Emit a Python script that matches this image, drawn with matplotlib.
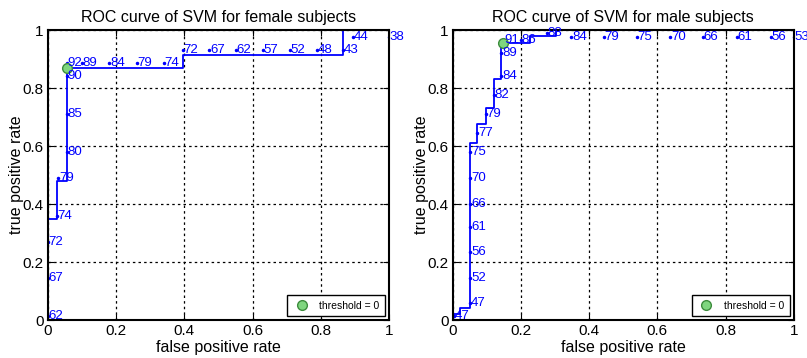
import numpy as np
import matplotlib.pyplot as plt

plt.rcParams['font.family'] = ['Liberation Sans', 'DejaVu Sans']

# ROC krzywe (schodki) - kobiety
f_fpr = [0, 0, 0.026, 0.026, 0.055, 0.055, 0.395, 0.395, 0.866, 0.866, 1.0]
f_tpr = [0, 0.348, 0.348, 0.48, 0.48, 0.87, 0.87, 0.914, 0.914, 1.0, 1.0]
f_pt = (0.055, 0.87)  # threshold = 0

# etykiety progów - kobiety
f_lab_fpr = [0, 0, 0, 0.026, 0.03, 0.055, 0.055, 0.055, 0.055, 0.10, 0.18, 0.26, 0.34,
             0.395, 0.473, 0.551, 0.63, 0.71, 0.79, 0.866, 0.894, 1.0]
f_lab_tpr = [0.015, 0.145, 0.27, 0.36, 0.49, 0.58, 0.71, 0.84, 0.885, 0.885, 0.885, 0.885, 0.885,
             0.93, 0.93, 0.93, 0.93, 0.93, 0.93, 0.93, 0.977, 0.975]
f_lab_txt = ['62', '67', '72', '74', '79', '80', '85', '90', '92', '89', '84', '79', '74',
             '72', '67', '62', '57', '52', '48', '43', '44', '38']

# ROC krzywe - mężczyźni
m_fpr = [0, 0, 0.022, 0.022, 0.052, 0.052, 0.072, 0.072, 0.097, 0.097, 0.121, 0.121,
         0.143, 0.143, 0.148, 0.226, 0.226, 0.304, 0.304, 1.0]
m_tpr = [0, 0.02, 0.02, 0.042, 0.042, 0.61, 0.61, 0.676, 0.676, 0.73, 0.73, 0.83,
         0.83, 0.956, 0.956, 0.956, 0.98, 0.98, 1.0, 1.0]
m_pt = (0.148, 0.956)

m_lab_fpr = [0.005, 0.052, 0.052, 0.052, 0.052, 0.052, 0.052, 0.052, 0.072, 0.097, 0.121,
             0.143, 0.143, 0.148, 0.20, 0.275, 0.348, 0.443, 0.54, 0.638, 0.734, 0.833, 0.932, 1.0]
m_lab_tpr = [0.015, 0.058, 0.146, 0.235, 0.32, 0.40, 0.49, 0.58, 0.645, 0.71, 0.775,
             0.84, 0.92, 0.965, 0.965, 0.99, 0.975, 0.975, 0.975, 0.975, 0.975, 0.975, 0.975, 0.975]
m_lab_txt = ['47', '47', '52', '56', '61', '66', '70', '75', '77', '79', '82',
             '84', '89', '91', '86', '88', '84', '79', '75', '70', '66', '61', '56', '53']

ticks = [0, 0.2, 0.4, 0.6, 0.8, 1]
tick_txt = ['0', '0.2', '0.4', '0.6', '0.8', '1']


def rysuj(ax, fpr, tpr, pt, lx, ly, lt, tytul):
    ax.plot(fpr, tpr, color='#0000ff', lw=1.3)
    ax.plot(lx, ly, '.', color='#0000ff', ms=3)
    for x, y, t in zip(lx, ly, lt):
        ax.text(x + 0.002, y, t, color='#0000ff', fontsize=9.5, ha='left', va='center',
                clip_on=False)
    ax.plot([pt[0]], [pt[1]], 'o', color='#7fd67f', mec='#3c8c3c', ms=7,
            label='threshold = 0')
    ax.set_xlim(0, 1)
    ax.set_ylim(0, 1)
    ax.set_xticks(ticks)
    ax.set_xticklabels(tick_txt)
    ax.set_yticks(ticks)
    ax.set_yticklabels(tick_txt)
    ax.tick_params(direction='in', length=4, labelsize=11, top=True, right=True, pad=3)
    ax.grid(True, linestyle=(0, (2, 2.5)), color='k', lw=0.9)
    for s in ax.spines.values():
        s.set_linewidth(1.5)
    ax.set_xlabel('false positive rate', fontsize=11.5, labelpad=1)
    ax.set_ylabel('true positive rate', fontsize=11.5, labelpad=-1)
    ax.set_title(tytul, fontsize=11.5, pad=6)
    leg = ax.legend(loc='lower right', fontsize=7.5, fancybox=False, framealpha=1,
                    edgecolor='k', borderpad=0.5, handletextpad=0.8, handlelength=1.8,
                    borderaxespad=0.4)
    leg.get_frame().set_linewidth(1)


fig = plt.figure(figsize=(8.07, 3.58), dpi=100)
ax1 = fig.add_axes([0.0595, 0.106, 0.4226, 0.81])
ax2 = fig.add_axes([0.561, 0.106, 0.4226, 0.81])

rysuj(ax1, f_fpr, f_tpr, f_pt, f_lab_fpr, f_lab_tpr, f_lab_txt,
      'ROC curve of SVM for female subjects')
rysuj(ax2, m_fpr, m_tpr, m_pt, m_lab_fpr, m_lab_tpr, m_lab_txt,
      'ROC curve of SVM for male subjects')

fig.savefig('out.png', dpi=100)
